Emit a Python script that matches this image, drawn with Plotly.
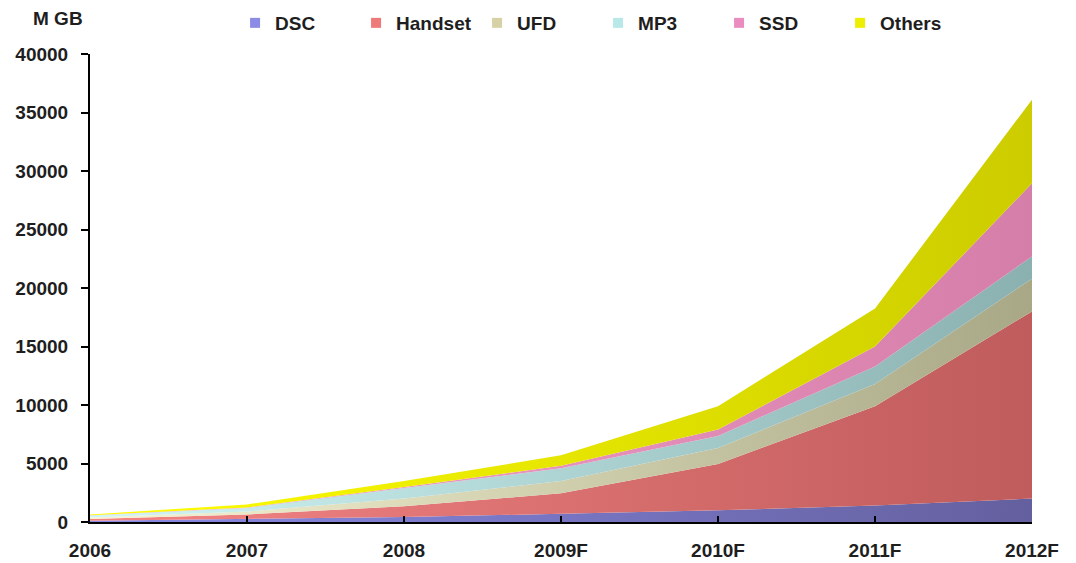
import plotly.graph_objects as go

years = ["2006", "2007", "2008", "2009F", "2010F", "2011F", "2012F"]
dsc = [100, 250, 430, 700, 1000, 1400, 2000]
handset = [150, 400, 920, 1750, 3950, 8500, 16000]
ufd = [130, 250, 650, 1050, 1370, 1900, 2800]
mp3 = [170, 300, 900, 1100, 1030, 1500, 1900]
ssd = [30, 50, 100, 200, 550, 1700, 6250]
others = [70, 250, 500, 900, 2000, 3250, 7150]

series = [
    ("DSC", dsc, "#8a8ae4", "#64609f", "#8c8ce6"),
    ("Handset", handset, "#f48484", "#c05c5c", "#ee7a7a"),
    ("UFD", ufd, "#f6f4d4", "#a8a886", "#d6d2a6"),
    ("MP3", mp3, "#d2f6f6", "#8ab0b0", "#b8e8e8"),
    ("SSD", ssd, "#f8a4cf", "#d47ea9", "#ea8cc0"),
    ("Others", others, "#ffff00", "#cccc00", "#eeee00"),
]

xs = list(range(len(years)))
font_family = "Liberation Sans, Arial, sans-serif"
txt_color = "#1e1e1e"

fig = go.Figure()
for name, vals, c0, c1, lc in series:
    fig.add_trace(go.Scatter(
        x=xs, y=vals, name=name, mode="lines",
        stackgroup="one", line=dict(width=0),
        fillgradient=dict(type="horizontal", colorscale=[[0, c0], [1, c1]]),
        showlegend=False, hoverinfo="x+y+name",
    ))
for name, vals, c0, c1, lc in series:
    fig.add_trace(go.Scatter(
        x=[None], y=[None], name=name, mode="markers",
        marker=dict(symbol="square", size=10, color=lc),
        showlegend=True,
    ))

H = 575
PLOT_TOP, PLOT_BOTTOM = 46, 514
PH = PLOT_BOTTOM - PLOT_TOP
fig.update_layout(
    width=1068, height=H,
    margin=dict(l=82, r=44, t=PLOT_TOP, b=H - PLOT_BOTTOM, autoexpand=False),
    paper_bgcolor="white", plot_bgcolor="white",
    font=dict(family=font_family, size=19, color=txt_color),
    legend=dict(
        orientation="h", x=0.154, xanchor="left",
        y=1 + (PLOT_TOP - 15) / PH, yanchor="middle",
        font=dict(family=font_family, size=19, color=txt_color, weight="bold"),
        itemwidth=30, tracegroupgap=0, bgcolor="rgba(0,0,0,0)",
        traceorder="normal", entrywidth=76, entrywidthmode="pixels",
    ),
    xaxis=dict(
        range=[0, 6], tickmode="array", tickvals=xs,
        ticktext=["<b>%s</b>" % y for y in years],
        showline=True, linecolor="black", linewidth=2,
        ticks="inside", ticklen=6, tickwidth=2, tickcolor="black",
        showgrid=False, zeroline=False, fixedrange=True,
        tickfont=dict(size=19), ticklabelstandoff=10, automargin=False,
    ),
    yaxis=dict(
        range=[0, 40000], dtick=5000, tickformat="d",
        showline=True, linecolor="black", linewidth=2,
        ticks="outside", ticklen=7, tickwidth=2, tickcolor="black",
        showgrid=False, zeroline=False, automargin=False,
        tickfont=dict(size=19, weight="bold"), ticklabelstandoff=9,
    ),
    annotations=[dict(
        text="<b>M GB</b>", xref="paper", yref="paper",
        x=-0.034, y=1 + (PLOT_TOP - 10) / PH, xanchor="center", yanchor="middle",
        showarrow=False, font=dict(size=19, color=txt_color),
    )],
)

fig.write_html("out.html")
